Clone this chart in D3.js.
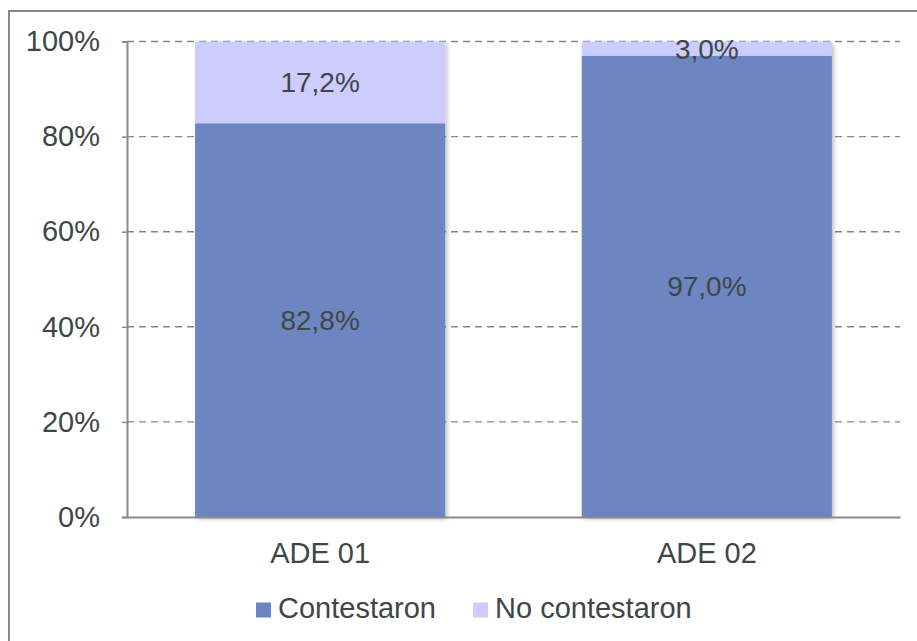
<!DOCTYPE html>
<html>
<head>
<meta charset="utf-8">
<script src="https://cdn.jsdelivr.net/npm/d3@7"></script>
<style>
  body { margin: 0; background: #fff; }
  svg { display: block; font-family: "Liberation Sans", Arial, sans-serif; }
</style>
</head>
<body>
<svg id="plot" width="917" height="641"></svg>
<script>
// data
const categories = ["ADE 01", "ADE 02"];
const series = ["Contestaron", "No contestaron"];
const contestaron = [82.8, 97.0];
const noContestaron = [17.2, 3.0];
const yTicks = [0, 20, 40, 60, 80, 100];

const colors = { "Contestaron": "#6d86c1", "No contestaron": "#ccccff" };
const textColor = "#404646";
const fontSize = 29;

const svg = d3.select("#plot");
const margin = { top: 41.5, left: 127, right: 17, bottom: 124 };
const width = +svg.attr("width");
const height = +svg.attr("height");

// outer chart border (right/bottom fall outside the picture)
svg.append("rect")
  .attr("x", 9).attr("y", 11)
  .attr("width", 920).attr("height", 650)
  .attr("fill", "#fff")
  .attr("stroke", "#898989")
  .attr("stroke-width", 2);

const defs = svg.append("defs");
const f = defs.append("filter").attr("id", "shadow")
  .attr("x", "-5%").attr("y", "-5%").attr("width", "115%").attr("height", "115%");
f.append("feDropShadow")
  .attr("dx", 2).attr("dy", 2).attr("stdDeviation", 2)
  .attr("flood-color", "#000").attr("flood-opacity", 0.25);

const x = d3.scaleBand()
  .domain(categories)
  .range([margin.left, width - margin.right])
  .paddingInner(0.353)
  .paddingOuter(0.176);

const y = d3.scaleLinear()
  .domain([0, 100])
  .range([height - margin.bottom, margin.top]);

// gridlines
svg.append("g")
  .selectAll("line")
  .data(yTicks.filter(d => d > 0))
  .join("line")
  .attr("x1", margin.left).attr("x2", width - margin.right)
  .attr("y1", d => y(d)).attr("y2", d => y(d))
  .attr("stroke", "#868686")
  .attr("stroke-width", 1.4)
  .attr("stroke-dasharray", "7,5");

// stacked data
const rows = categories.map((c, i) => ({ cat: c, "Contestaron": contestaron[i], "No contestaron": noContestaron[i] }));
const stacked = d3.stack().keys(series)(rows);

const barG = svg.append("g").attr("filter", "url(#shadow)");
stacked.forEach(s => {
  barG.selectAll(null)
    .data(s)
    .join("rect")
    .attr("x", d => x(d.data.cat))
    .attr("width", x.bandwidth())
    .attr("y", d => y(d[1]))
    .attr("height", d => y(d[0]) - y(d[1]))
    .attr("fill", colors[s.key]);
});

// data labels
const fmt = v => v.toFixed(1).replace(".", ",") + "%";
stacked.forEach(s => {
  svg.append("g").selectAll("text")
    .data(s)
    .join("text")
    .attr("x", d => x(d.data.cat) + x.bandwidth() / 2)
    .attr("y", d => (y(d[0]) + y(d[1])) / 2)
    .attr("dy", "0.36em")
    .attr("text-anchor", "middle")
    .attr("font-size", 28)
    .attr("fill", textColor)
    .text(d => fmt(d[1] - d[0]));
});

// y axis
const yAxis = svg.append("g")
  .attr("transform", `translate(${margin.left},0)`)
  .call(d3.axisLeft(y).tickValues(yTicks).tickFormat(d => d + "%").tickSize(5).tickPadding(22));
yAxis.select(".domain").attr("stroke", "#898989").attr("stroke-width", 2);
yAxis.selectAll(".tick line").attr("stroke", "#898989").attr("stroke-width", 1.5);
yAxis.selectAll(".tick text")
  .attr("font-size", fontSize)
  .attr("fill", textColor)
  .attr("font-family", "'Liberation Sans', Arial, sans-serif");

// x axis
const xAxis = svg.append("g")
  .attr("transform", `translate(0,${y(0)})`)
  .call(d3.axisBottom(x).tickSize(0).tickPadding(25));
xAxis.select(".domain").attr("stroke", "#898989").attr("stroke-width", 2);
xAxis.selectAll(".tick text")
  .attr("font-size", fontSize)
  .attr("fill", textColor)
  .attr("font-family", "'Liberation Sans', Arial, sans-serif");

// legend
const legendX = [256, 473];
const legend = svg.append("g");
series.forEach((s, i) => {
  legend.append("rect")
    .attr("x", legendX[i]).attr("y", 602.5)
    .attr("width", 15).attr("height", 15)
    .attr("fill", colors[s]);
  legend.append("text")
    .attr("x", legendX[i] + 22).attr("y", 618)
    .attr("font-size", fontSize)
    .attr("fill", textColor)
    .text(s);
});
</script>
</body>
</html>
